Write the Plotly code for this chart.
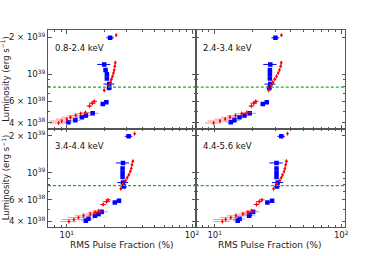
import plotly.graph_objects as go

# ---------------- data ----------------
bands = ["0.8-2.4 keV", "2.4-3.4 keV", "3.4-4.4 keV", "4.4-5.6 keV"]

# luminosities (erg/s), shared by all energy bands
blue_lum = [1.98e39, 1.2e39, 1.08e39, 1.0e39, 9.2e38, 8.3e38, 7.7e38,
            5.9e38, 5.7e38, 4.8e38, 4.6e38, 4.45e38, 4.2e38, 4.05e38]
red_lum = [2.08e39, 1.24e39, 1.16e39, 1.08e39, 1.02e39, 9.6e38, 9.1e38,
           8.6e38, 8.1e38, 7.4e38, 6.0e38, 5.8e38, 5.5e38,
           4.88e38, 4.75e38, 4.6e38, 4.45e38, 4.3e38, 4.15e38, 4.0e38]

# RMS pulse fractions (%) per band
blue_pf_1 = [22.2, 19.9, 20.4, 20.9, 20.9, 21.8, 21.8, 20.7, 19.4, 16.1, 14.2, 13.2, 11.7, 10.3]
blue_pf_2 = [30.2, 27.5, 27.3, 27.3, 27.3, 27.5, 27.0, 25.8, 24.0, 18.9, 17.2, 15.7, 14.3, 13.4]
blue_pf_3 = [31.2, 28.1, 27.9, 27.9, 27.9, 28.1, 28.6, 26.1, 24.2, 19.0, 17.9, 16.8, 14.9, 14.2]
blue_pf_4 = [33.6, 30.8, 30.8, 30.8, 30.8, 31.5, 31.1, 28.4, 26.1, 20.1, 18.9, 18.7, 15.7, 15.2]

red_pf_1 = [24.8, 24.4, 24.2, 23.9, 23.6, 23.2, 22.7, 22.3, 21.8, 19.9,
            16.6, 16.0, 15.2, 14.1, 12.9, 11.8, 10.7, 10.0, 9.1, 8.6]
red_pf_2 = [33.7, 33.6, 33.2, 32.5, 31.7, 30.8, 29.8, 28.8, 27.8, 26.8,
            21.1, 20.4, 19.5, 17.9, 16.3, 14.6, 13.2, 12.1, 11.0, 9.8]
red_pf_3 = [34.8, 33.7, 33.1, 32.7, 32.1, 31.3, 30.4, 29.5, 28.1, 27.0,
            21.4, 20.8, 19.5, 17.9, 16.8, 15.4, 13.6, 12.4, 11.4, 10.4]
red_pf_4 = [37.6, 36.9, 36.4, 35.9, 35.3, 34.4, 33.6, 32.7, 31.1, 29.2,
            23.6, 22.5, 21.4, 19.5, 18.3, 16.7, 14.7, 13.4, 12.2, 11.5]

# relative errors
blue_xerr_frac = [0.07, 0.12, 0.03, 0.03, 0.03, 0.10, 0.05, 0.04, 0.04, 0.12, 0.10, 0.12, 0.10, 0.08]
red_xerr_frac = [0.02, 0.02, 0.02, 0.02, 0.02, 0.02, 0.02, 0.02, 0.02, 0.02,
                 0.05, 0.06, 0.05, 0.10, 0.12, 0.14, 0.15, 0.18, 0.20, 0.15]
red_yerr_frac = 0.02
blue_split = 9   # points from here on have faint error bars
red_split = 13

lum_limit = 7.85e38

x_major = [10, 100]
x_major_text = ["10<sup>1</sup>", "10<sup>2</sup>"]
x_minor = [7, 8, 9, 20, 30, 40, 50, 60, 70, 80, 90]
y_major = [4e38, 6e38, 1e39, 2e39]
y_major_text = ["4 × 10<sup>38</sup>", "6 × 10<sup>38</sup>", "10<sup>39</sup>", "2 × 10<sup>39</sup>"]
y_minor = [5e38, 7e38, 8e38, 9e38]

x_title = "RMS Pulse Fraction (%)"
y_title = "Luminosity (erg s<sup>−1</sup>)"

blue_pf = [blue_pf_1, blue_pf_2, blue_pf_3, blue_pf_4]
red_pf = [red_pf_1, red_pf_2, red_pf_3, red_pf_4]

# ---------------- figure ----------------
FONT = "DejaVu Sans"
fig = go.Figure()

def add_points(i, xs, ys, xerr_frac, yerr_frac, split, color, faint, symbol, size):
    xa = "x" if i == 0 else f"x{i+1}"
    ya = "y" if i == 0 else f"y{i+1}"
    for lo, hi, ecol in [(0, split, color), (split, len(xs), faint)]:
        sx = xs[lo:hi]
        sy = ys[lo:hi]
        ex = [f * v for f, v in zip(xerr_frac[lo:hi], sx)]
        ey = [yerr_frac * v for v in sy] if yerr_frac else None
        fig.add_trace(go.Scatter(
            x=sx, y=sy, mode="markers", xaxis=xa, yaxis=ya,
            marker=dict(color=color, symbol=symbol, size=size, line=dict(width=0)),
            error_x=dict(type="data", array=ex, color=ecol, thickness=1, width=0),
            error_y=dict(type="data", array=ey, color=ecol, thickness=1, width=0, visible=bool(yerr_frac)),
            showlegend=False, hoverinfo="skip"))

for i in range(4):
    add_points(i, blue_pf[i], blue_lum, blue_xerr_frac, 0.0, blue_split,
               "#0000ff", "rgba(60,90,255,0.55)", "square", 4.5)
    add_points(i, red_pf[i], red_lum, red_xerr_frac, red_yerr_frac, red_split,
               "#ff0000", "rgba(255,60,60,0.55)", "diamond-tall", 3.5)

L, R, T, B = 48, 39, 30, 29
W, H = 384, 256
xdom = [[0, 0.4975], [0.4975, 1.0]]
ydom = [[0.5, 1.0], [0.0, 0.5]]
xr = [0.85, 2.03]
yr = [38.557, 39.36]
layout = dict(width=W, height=H, margin=dict(l=L, r=R, t=T, b=B, autoexpand=False),
              paper_bgcolor="white", plot_bgcolor="white",
              font=dict(family=FONT, size=8.5, color="#222"))

for i in range(4):
    row, col = divmod(i, 2)
    sfx = "" if i == 0 else str(i + 1)
    xa = dict(type="log", range=xr, domain=xdom[col], anchor="y" + sfx, automargin=False,
              showgrid=False, zeroline=False, showline=True, linecolor="#555", linewidth=1,
              mirror="allticks", ticks="inside", ticklen=3.5, tickcolor="#555", tickwidth=0.8,
              tickmode="array", tickvals=x_major, ticktext=x_major_text,
              showticklabels=(row == 1), tickfont=dict(size=8.5, family=FONT),
              minor=dict(tickmode="array", tickvals=x_minor, ticks="inside", ticklen=2,
                         tickcolor="#555", tickwidth=0.7, showgrid=False))
    ya = dict(type="log", range=yr, domain=ydom[row], anchor="x" + sfx, automargin=False,
              showgrid=False, zeroline=False, showline=True, linecolor="#555", linewidth=1,
              mirror="allticks", ticks="inside", ticklen=3.5, tickcolor="#555", tickwidth=0.8,
              tickmode="array", tickvals=y_major, ticktext=y_major_text,
              showticklabels=(col == 0), tickfont=dict(size=8.5, family=FONT),
              minor=dict(tickmode="array", tickvals=y_minor, ticks="inside", ticklen=2,
                         tickcolor="#555", tickwidth=0.7, showgrid=False))
    layout["xaxis" + sfx] = xa
    layout["yaxis" + sfx] = ya

fig.update_layout(**layout)

pw = W - L - R
ph = H - T - B
for i in range(4):
    row, col = divmod(i, 2)
    sfx = "" if i == 0 else str(i + 1)
    fig.add_shape(type="line", xref=f"x{sfx} domain", yref=f"y{sfx}",
                  x0=0, x1=1, y0=lum_limit, y1=lum_limit,
                  line=dict(color="#1fb01f", width=1.3, dash="3px,2px"))
    fig.add_annotation(text=bands[i], xref=f"x{sfx} domain", yref=f"y{sfx} domain",
                       x=0.035, y=0.82, xanchor="left", yanchor="middle", showarrow=False,
                       font=dict(size=8.5, family=FONT, color="#111"))
    if row == 1:
        xc = sum(xdom[col]) / 2
        fig.add_annotation(text=x_title, xref="paper", yref="paper",
                           x=xc, y=-(245 - (H - B)) / ph, xanchor="center", yanchor="middle",
                           showarrow=False, font=dict(size=9, family=FONT, color="#222"))
    if col == 0:
        yc = sum(ydom[row]) / 2
        fig.add_annotation(text=y_title, xref="paper", yref="paper", textangle=-90,
                           x=-(L - 5.5) / pw, y=yc, xanchor="center", yanchor="middle",
                           showarrow=False, font=dict(size=8.5, family=FONT, color="#222"))

fig.write_html("out.html", config={"displayModeBar": False},
               post_script="document.body.style.margin='0';document.body.style.padding='0';")
